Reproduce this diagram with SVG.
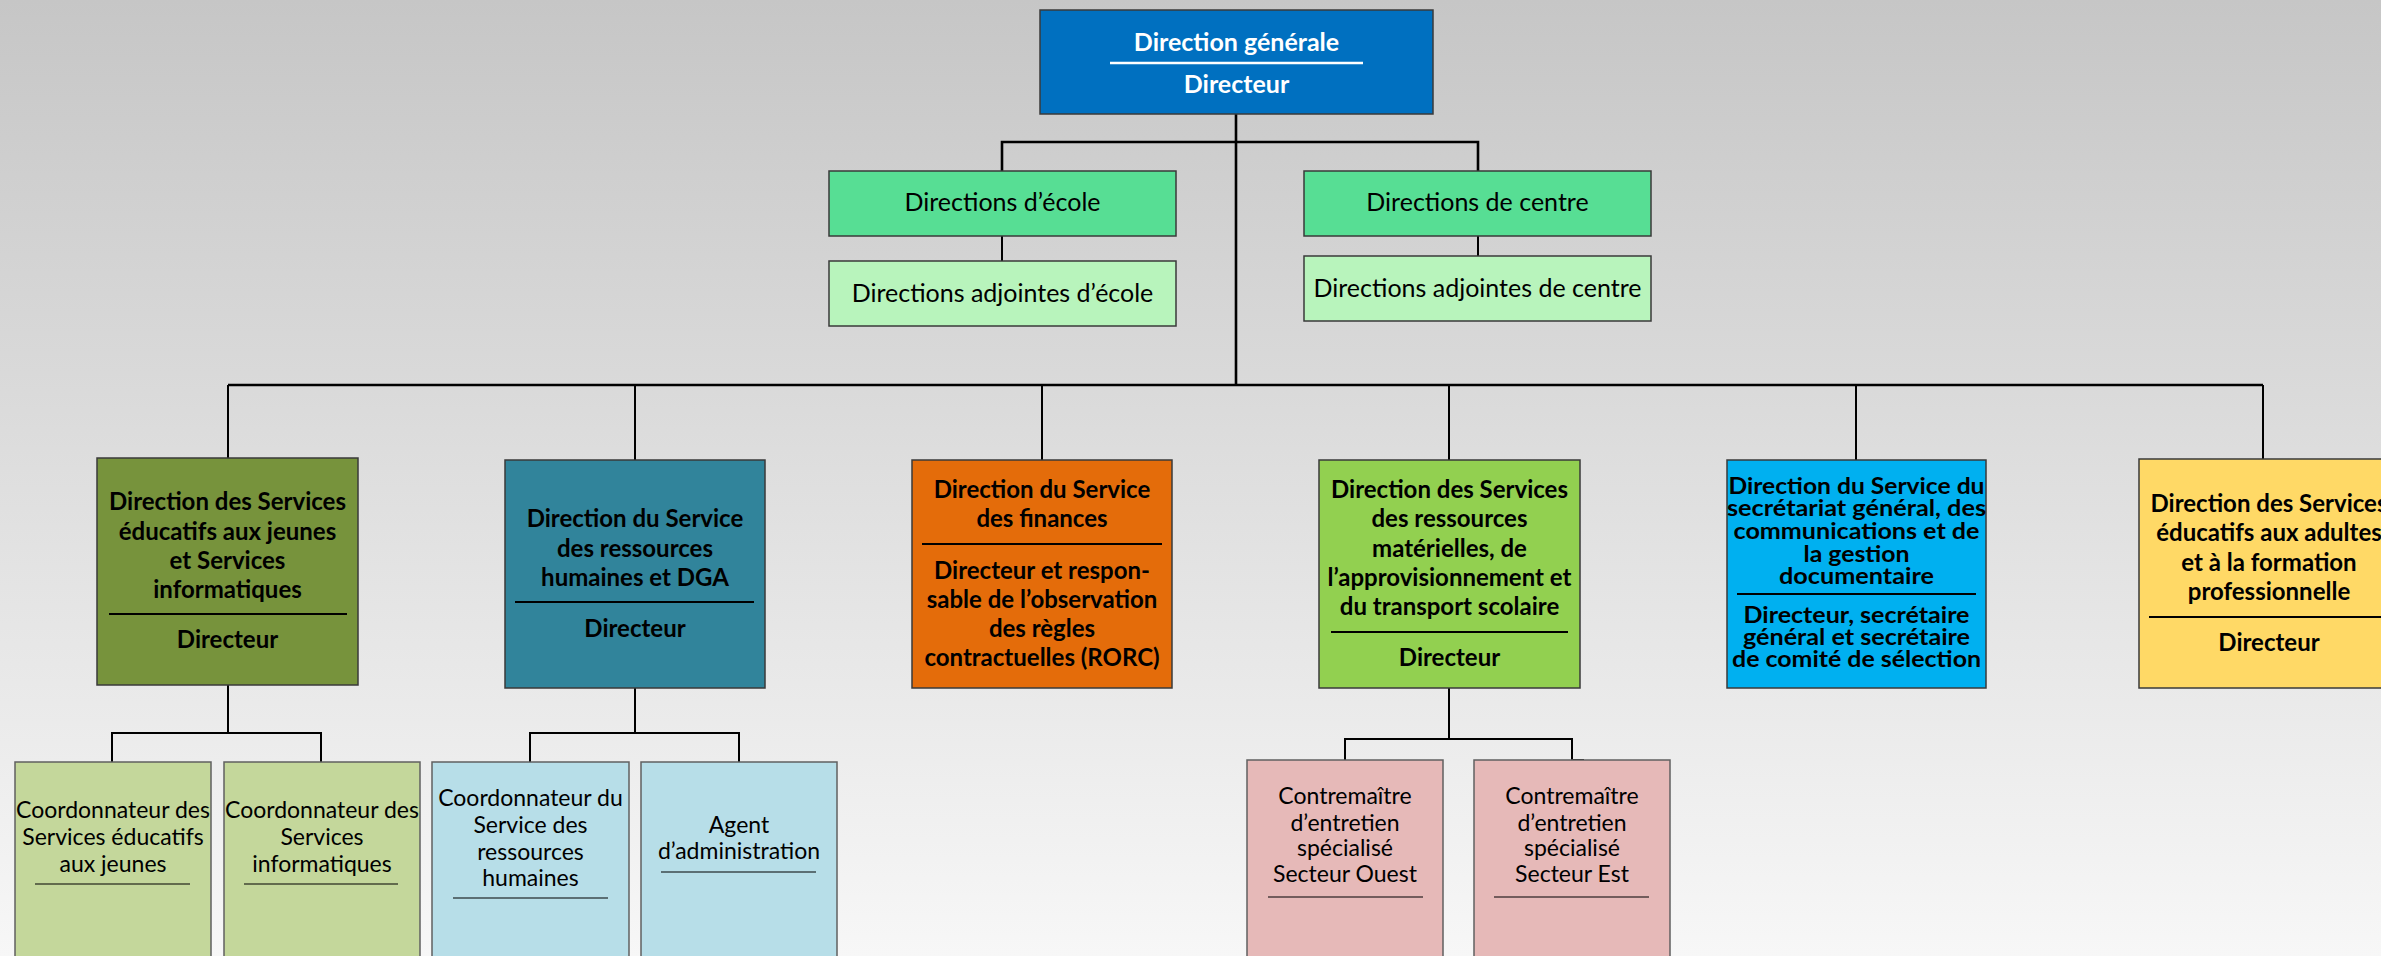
<svg xmlns="http://www.w3.org/2000/svg" width="2381" height="956" viewBox="0 0 2381 956">
<defs>
<linearGradient id="bg" x1="0" y1="0" x2="0" y2="1">
<stop offset="0" stop-color="#C6C6C6"/>
<stop offset="0.45" stop-color="#DCDCDC"/>
<stop offset="1" stop-color="#F7F7F7"/>
</linearGradient>
<style>
.box{stroke:#3a3a3a;stroke-width:1.5}
.cbox{stroke:#606060;stroke-width:1.5}
.b{font-family:Lato,"Open Sans","Liberation Sans",sans-serif;font-weight:700;font-size:24px;fill:#000;text-anchor:middle}
.bs{font-family:Lato,"Open Sans","Liberation Sans",sans-serif;font-weight:700;font-size:22.5px;fill:#000;text-anchor:middle}
.w{font-family:Lato,"Open Sans","Liberation Sans",sans-serif;font-weight:700;font-size:25px;fill:#fff;text-anchor:middle}
.r{font-family:Lato,"Open Sans","Liberation Sans",sans-serif;font-weight:400;font-size:25px;fill:#000;text-anchor:middle}
.rc{font-family:Lato,"Open Sans","Liberation Sans",sans-serif;font-weight:400;font-size:23px;fill:#000;text-anchor:middle}
.sep{stroke:#000;stroke-width:2}
.und{stroke:#000;stroke-width:1.2}
.conn{fill:none;stroke:#000;stroke-width:2}
.main{fill:none;stroke:#000;stroke-width:2.6}
</style>
</defs>
<rect x="0" y="0" width="2381" height="956" fill="url(#bg)"/>

<g id="connectors">
<path class="main" d="M1236 114 V385"/>
<path class="main" d="M1002 171 V142 H1478 V171"/>
<path class="conn" d="M1002 236 V261"/>
<path class="conn" d="M1478 236 V256"/>
<path class="main" d="M228 385 H2263"/>
<path class="conn" d="M228 385 V458"/>
<path class="conn" d="M635 385 V460"/>
<path class="conn" d="M1042 385 V460"/>
<path class="conn" d="M1449 385 V460"/>
<path class="conn" d="M1856 385 V460"/>
<path class="conn" d="M2263 385 V459"/>
<path class="conn" d="M228 685 V733"/>
<path class="conn" d="M112 762 V733 H321 V762"/>
<path class="conn" d="M635 688 V733"/>
<path class="conn" d="M530 762 V733 H739 V762"/>
<path class="conn" d="M1449 688 V739"/>
<path class="conn" d="M1345 760 V739 H1572 V760 H1584"/>
</g>

<g id="direction-generale">
<rect class="box" x="1040" y="10" width="393" height="104" fill="#0070C0"/>
<text class="w" x="1236.5" y="51">Direction générale</text>
<line x1="1110" y1="63" x2="1363" y2="63" stroke="#fff" stroke-width="2.5"/>
<text class="w" x="1236.5" y="93">Directeur</text>
</g>

<g id="directions-ecole">
<rect class="box" x="829" y="171" width="347" height="65" fill="#57DE94"/>
<text class="r" x="1002.5" y="211">Directions d’école</text>
</g>
<g id="directions-adjointes-ecole">
<rect class="box" x="829" y="261" width="347" height="65" fill="#B8F4BC"/>
<text class="r" x="1002.5" y="302">Directions adjointes d’école</text>
</g>
<g id="directions-centre">
<rect class="box" x="1304" y="171" width="347" height="65" fill="#57DE94"/>
<text class="r" x="1477.5" y="211">Directions de centre</text>
</g>
<g id="directions-adjointes-centre">
<rect class="box" x="1304" y="256" width="347" height="65" fill="#B8F4BC"/>
<text class="r" x="1477.5" y="297">Directions adjointes de centre</text>
</g>

<g id="dir-jeunes-info">
<rect class="box" x="97" y="458" width="261" height="227" fill="#77933C"/>
<text class="b" x="227.5" y="510">Direction des Services</text>
<text class="b" x="227.5" y="540">éducatifs aux jeunes</text>
<text class="b" x="227.5" y="569">et Services</text>
<text class="b" x="227.5" y="598">informatiques</text>
<line class="sep" x1="109" y1="614" x2="347" y2="614"/>
<text class="b" x="227.5" y="648">Directeur</text>
</g>

<g id="dir-rh">
<rect class="box" x="505" y="460" width="260" height="228" fill="#31849B"/>
<text class="b" x="635" y="527">Direction du Service</text>
<text class="b" x="635" y="557">des ressources</text>
<text class="b" x="635" y="586">humaines et DGA</text>
<line class="sep" x1="515" y1="602" x2="754" y2="602"/>
<text class="b" x="635" y="637">Directeur</text>
</g>

<g id="dir-finances">
<rect class="box" x="912" y="460" width="260" height="228" fill="#E46C0A"/>
<text class="b" x="1042" y="498">Direction du Service</text>
<text class="b" x="1042" y="527">des finances</text>
<line class="sep" x1="922" y1="544" x2="1162" y2="544"/>
<text class="b" x="1042" y="579">Directeur et respon-</text>
<text class="b" x="1042" y="608">sable de l’observation</text>
<text class="b" x="1042" y="637">des règles</text>
<text class="b" x="1042" y="666">contractuelles (RORC)</text>
</g>

<g id="dir-materielles">
<rect class="box" x="1319" y="460" width="261" height="228" fill="#92D050"/>
<text class="b" x="1449.5" y="498">Direction des Services</text>
<text class="b" x="1449.5" y="527">des ressources</text>
<text class="b" x="1449.5" y="557">matérielles, de</text>
<text class="b" x="1449.5" y="586">l’approvisionnement et</text>
<text class="b" x="1449.5" y="615">du transport scolaire</text>
<line class="sep" x1="1331" y1="632" x2="1568" y2="632"/>
<text class="b" x="1449.5" y="666">Directeur</text>
</g>

<g id="dir-secretariat">
<rect class="box" x="1727" y="460" width="259" height="228" fill="#00B0F0"/>
<text class="bs" x="1856.5" y="494" textLength="256" lengthAdjust="spacingAndGlyphs">Direction du Service du</text>
<text class="bs" x="1856.5" y="516" textLength="259" lengthAdjust="spacingAndGlyphs">secrétariat général, des</text>
<text class="bs" x="1856.5" y="539" textLength="246" lengthAdjust="spacingAndGlyphs">communications et de</text>
<text class="bs" x="1856.5" y="562" textLength="106" lengthAdjust="spacingAndGlyphs">la gestion</text>
<text class="bs" x="1856.5" y="584" textLength="155" lengthAdjust="spacingAndGlyphs">documentaire</text>
<line class="sep" x1="1737" y1="594" x2="1976" y2="594"/>
<text class="bs" x="1856.5" y="623" textLength="226" lengthAdjust="spacingAndGlyphs">Directeur, secrétaire</text>
<text class="bs" x="1856.5" y="645" textLength="227" lengthAdjust="spacingAndGlyphs">général et secrétaire</text>
<text class="bs" x="1856.5" y="667" textLength="249" lengthAdjust="spacingAndGlyphs">de comité de sélection</text>
</g>

<g id="dir-adultes">
<rect class="box" x="2139" y="459" width="260" height="229" fill="#FFD966"/>
<text class="b" x="2269" y="512">Direction des Services</text>
<text class="b" x="2269" y="541">éducatifs aux adultes</text>
<text class="b" x="2269" y="571">et à la formation</text>
<text class="b" x="2269" y="600">professionnelle</text>
<line class="sep" x1="2149" y1="617" x2="2390" y2="617"/>
<text class="b" x="2269" y="651">Directeur</text>
</g>

<g id="coord-jeunes">
<rect class="cbox" x="15" y="762" width="196" height="210" fill="#C4D79B"/>
<text class="rc" x="113" y="818">Coordonnateur des</text>
<text class="rc" x="113" y="845">Services éducatifs</text>
<text class="rc" x="113" y="872">aux jeunes</text>
<line class="und" x1="35" y1="884" x2="190" y2="884"/>
</g>
<g id="coord-info">
<rect class="cbox" x="224" y="762" width="196" height="210" fill="#C4D79B"/>
<text class="rc" x="322" y="818">Coordonnateur des</text>
<text class="rc" x="322" y="845">Services</text>
<text class="rc" x="322" y="872">informatiques</text>
<line class="und" x1="244" y1="884" x2="398" y2="884"/>
</g>
<g id="coord-rh">
<rect class="cbox" x="432" y="762" width="197" height="210" fill="#B7DEE8"/>
<text class="rc" x="530.5" y="806">Coordonnateur du</text>
<text class="rc" x="530.5" y="833">Service des</text>
<text class="rc" x="530.5" y="860">ressources</text>
<text class="rc" x="530.5" y="886">humaines</text>
<line class="und" x1="453" y1="898" x2="608" y2="898"/>
</g>
<g id="agent-admin">
<rect class="cbox" x="641" y="762" width="196" height="210" fill="#B7DEE8"/>
<text class="rc" x="739" y="833">Agent</text>
<text class="rc" x="739" y="859">d’administration</text>
<line class="und" x1="661" y1="872" x2="816" y2="872"/>
</g>
<g id="contremaitre-ouest">
<rect class="cbox" x="1247" y="760" width="196" height="212" fill="#E6B9B8"/>
<text class="rc" x="1345" y="804">Contremaître</text>
<text class="rc" x="1345" y="831">d’entretien</text>
<text class="rc" x="1345" y="856">spécialisé</text>
<text class="rc" x="1345" y="882">Secteur Ouest</text>
<line class="und" x1="1268" y1="897" x2="1423" y2="897"/>
</g>
<g id="contremaitre-est">
<rect class="cbox" x="1474" y="760" width="196" height="212" fill="#E6B9B8"/>
<text class="rc" x="1572" y="804">Contremaître</text>
<text class="rc" x="1572" y="831">d’entretien</text>
<text class="rc" x="1572" y="856">spécialisé</text>
<text class="rc" x="1572" y="882">Secteur Est</text>
<line class="und" x1="1494" y1="897" x2="1649" y2="897"/>
</g>
</svg>
